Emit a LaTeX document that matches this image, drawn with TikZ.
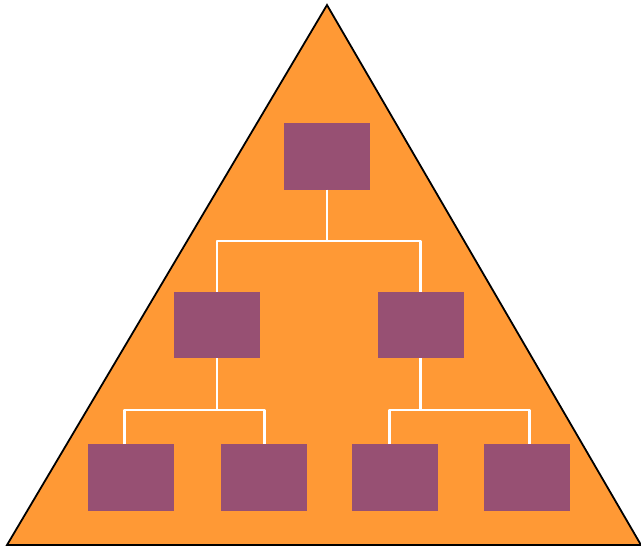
\documentclass[tikz,border=0pt]{standalone}
\usepackage{xcolor}
\usepackage{tikz}
\usetikzlibrary{positioning,calc}
\definecolor{pyrorange}{HTML}{FF9935}
\definecolor{orgpurple}{HTML}{975073}

\begin{document}
\begin{tikzpicture}[
  x=1pt, y=-1pt,
  orgbox/.style={fill=orgpurple, minimum width=86pt, minimum height=66.5pt,
                 inner sep=0pt, outer sep=0pt},
  link/.style={draw=white, line width=2.6pt, line join=round}
]
  \useasboundingbox (0,0) rectangle (641,547);
  % pyramid
  \draw[fill=pyrorange, line width=1.8pt, line join=miter] (327,5) -- (641,545) -- (7,545) -- cycle;

  % boxes
  \node[orgbox] (top) at (327,156.3) {};
  \node[orgbox] (ml) at (217,325) {};
  \node[orgbox] (mr) at (420.5,325) {};
  \node[orgbox] (b1) at (131,477.3) {};
  \node[orgbox] (b2) at (263.5,477.3) {};
  \node[orgbox] (b3) at (394.5,477.3) {};
  \node[orgbox] (b4) at (526.5,477.3) {};

  % junctions
  \coordinate (j1) at (327,241);
  \coordinate (j2) at (217,410);
  \coordinate (j3) at (420.5,410);

  % links
  \draw[link] (top.south) -- (j1);
  \draw[link] (ml.north) |- (j1) -| (mr.north);
  \draw[link] (ml.south) -- (j2);
  \draw[link] ([xshift=-6.7pt]b1.north) |- (j2) -| ([xshift=0.8pt]b2.north);
  \draw[link] (mr.south) -- (j3);
  \draw[link] ([xshift=-5.2pt]b3.north) |- (j3) -| ([xshift=2.8pt]b4.north);
\end{tikzpicture}
\end{document}
